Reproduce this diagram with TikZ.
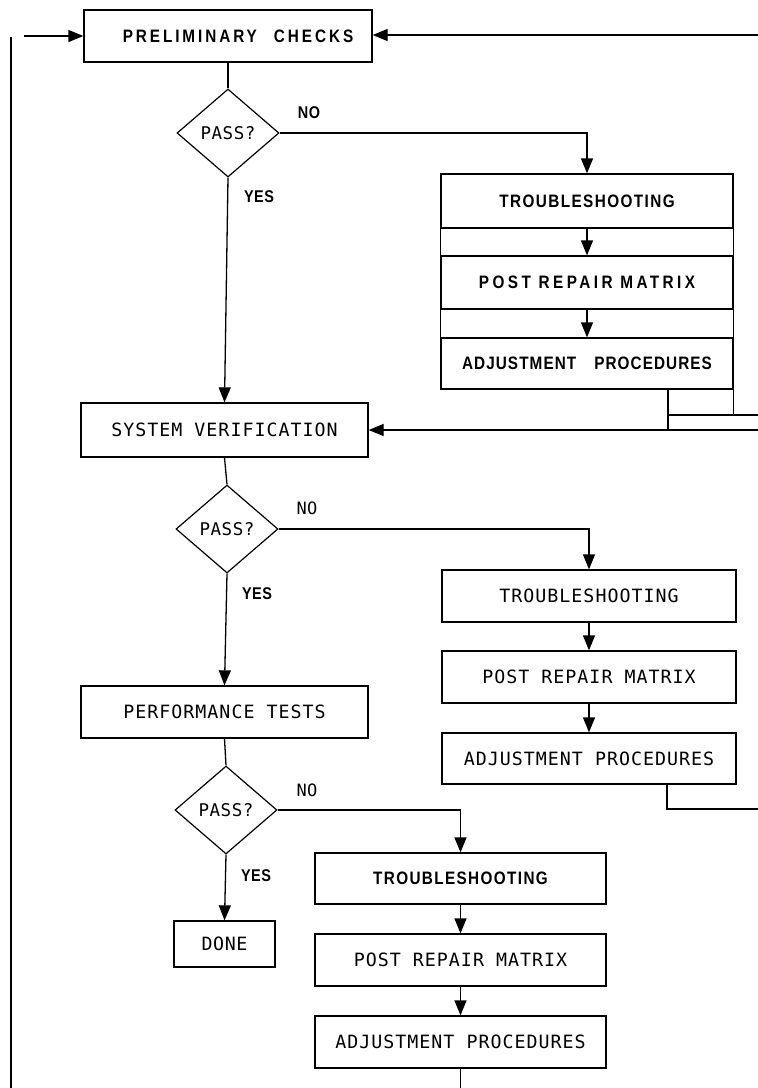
\documentclass[tikz,border=0pt]{standalone}
\usepackage{fontspec}
\setmainfont{Liberation Sans}
\newfontfamily\chartfont{DejaVu Sans Mono}
\newfontfamily\chartbold[FakeStretch=0.85]{Liberation Sans}
\newcommand\trk[1]{\addfontfeature{LetterSpace=#1}}
\usetikzlibrary{arrows.meta,shapes.geometric}

\tikzset{
  flow/.style={line width=1.3pt},
  arr/.style={flow,-{Triangle[length=15pt,width=12pt]}},
  procbox/.style={draw, line width=1.3pt, inner sep=0pt,
    font=\chartfont\fontsize{18.3}{21}\selectfont},
  boldbox/.style={procbox, font=\chartbold\bfseries\fontsize{18}{21}\selectfont},
  decision/.style={draw, diamond, line width=1.2pt, inner sep=0pt,
    minimum width=102pt, minimum height=88pt,
    font=\chartfont\fontsize{17.5}{20}\selectfont},
  answer/.style={font=\chartfont\fontsize{17}{19}\selectfont},
  boldanswer/.style={font=\chartbold\bfseries\fontsize{17}{19}\selectfont},
}

\begin{document}
\begin{tikzpicture}[x=1pt,y=-1pt]
\useasboundingbox (0,0) rectangle (758,1088);
\fill[white] (0,0) rectangle (758,1088);

% main column
\node[boldbox, minimum width=288pt, minimum height=52pt] (pc) at (228,36) {\hspace{20pt}\trk{16.3}PRELIMINARY\hspace{17pt}CHECKS};
\node[decision] (d1) at (228,133) {\trk{3}PASS?};
\node[procbox, minimum width=287pt, minimum height=54pt] (sv) at (224.5,430) {\trk{5.5}SYSTEM VERIFICATION};
\node[decision] (d2) at (227,529) {\trk{3}PASS?};
\node[procbox, minimum width=287pt, minimum height=52pt] (pt) at (224.5,712) {\trk{5.5}PERFORMANCE TESTS};
\node[decision] (d3) at (226,810) {\trk{3}PASS?};
\node[procbox, minimum width=101pt, minimum height=46pt] (done) at (224.5,944) {\trk{3}DONE};

% first repair branch (stacked block)
\node[boldbox, minimum width=292pt, minimum height=54pt] (ts1) at (587,201) {\trk{7.9}TROUBLESHOOTING};
\node[boldbox, minimum width=292pt, minimum height=53pt] (prm1) at (587,282.5) {\trk{19.2}POST REPAIR MATRIX};
\node[boldbox, minimum width=292pt, minimum height=51pt] (adj1) at (587,363.5) {\trk{6}ADJUSTMENT\hspace{18pt}PROCEDURES};
\draw[flow] (ts1.north west) rectangle (adj1.south east);

% second repair branch
\node[procbox, minimum width=294pt, minimum height=52pt] (ts2) at (589,596) {\trk{5.5}TROUBLESHOOTING\hspace{14pt}};
\node[procbox, minimum width=294pt, minimum height=52pt] (prm2) at (589,677) {\trk{5.5}POST REPAIR MATRIX};
\node[procbox, minimum width=294pt, minimum height=51pt] (adj2) at (589,758.5) {\trk{5.5}ADJUSTMENT PROCEDURES};

% third repair branch
\node[boldbox, minimum width=291pt, minimum height=51pt] (ts3) at (460.5,878.5) {\trk{7.6}TROUBLESHOOTING};
\node[procbox, minimum width=291pt, minimum height=52pt] (prm3) at (460.5,960) {\trk{5.5}POST REPAIR MATRIX};
\node[procbox, minimum width=291pt, minimum height=52pt] (adj3) at (460.5,1042) {\trk{5.5}ADJUSTMENT PROCEDURES};

% free ends running off the sheet
\coordinate (loopTop) at (11,37);
\coordinate (loopBot) at (11,1088);
\coordinate (loopIn) at (24,36);
\coordinate (retTop) at (758,35);
\coordinate (retSV) at (758,430);
\coordinate (adj1drop) at (668,430);
\coordinate (adj1side) at (733,415);
\coordinate (adj1out) at (758,415);
\coordinate (adj2bend) at (667,809);
\coordinate (adj2out) at (758,809);
\coordinate (adj3out) at (460.5,1088);

% return loop on the left
\draw[line width=1.7pt] (loopTop) -- (loopBot);
\draw[arr] (loopIn) -- (pc.west);
\draw[arr] (retTop) -- (retTop -| pc.east);

% first decision
\draw[flow] (pc.south) -- (d1.north);
\draw[arr] (d1.east) -| (ts1.north);
\node[boldanswer] (no1) at (309,113) {\trk{2}NO};
\draw[arr] (d1.south) -- (sv.north);
\node[boldanswer] (yes1) at (259,197) {\trk{3}YES};
\draw[arr] (ts1.south) -- (prm1.north);
\draw[arr] (prm1.south) -- (adj1.north);
\draw[flow] (adj1.south -| adj1drop) -- (adj1drop);
\draw[flow] (adj1.south east) -- (adj1.south east |- adj1side) -- (adj1out);
\draw[flow] (adj1side -| adj1drop) -- (adj1side);
\draw[arr] (retSV) -- (sv.east);

% second decision
\draw[flow] (sv.south) -- (d2.north);
\draw[arr] (d2.east) -| (ts2.north);
\node[answer] (no2) at (307,508) {\trk{3}NO};
\draw[arr] (d2.south) -- (pt.north);
\node[boldanswer] (yes2) at (257,594) {\trk{3}YES};
\draw[arr] (ts2.south) -- (prm2.north);
\draw[arr] (prm2.south) -- (adj2.north);
\draw[flow] (adj2.south -| adj2bend) -- (adj2bend) -- (adj2out);

% third decision
\draw[flow] (pt.south) -- (d3.north);
\draw[arr] (d3.east) -| (ts3.north);
\node[answer] (no3) at (307,790) {\trk{3}NO};
\draw[arr] (d3.south) -- (done.north);
\node[boldanswer] (yes3) at (256,876) {\trk{3}YES};
\draw[arr] (ts3.south) -- (prm3.north);
\draw[arr] (prm3.south) -- (adj3.north);
\draw[flow] (adj3.south) -- (adj3out);
\end{tikzpicture}
\end{document}
